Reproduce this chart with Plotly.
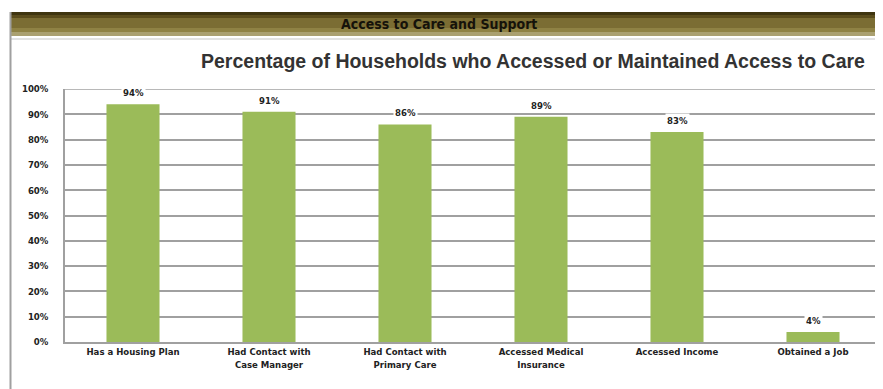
import plotly.graph_objects as go

categories = ["Has a Housing Plan", "Had Contact with<br>Case Manager", "Had Contact with<br>Primary Care",
              "Accessed Medical<br>Insurance", "Accessed Income", "Obtained a Job"]
values = [94, 91, 86, 89, 83, 4]
tick_vals = list(range(0, 101, 10))
tick_text = [f"{v}%" for v in tick_vals]

OFF = 8  # default page body margin
W, H = 883 - OFF, 389 - OFF
L, R, T, B = 65 - OFF, 2, 89 - OFF, 47
PW, PH = W - L - R, H - T - B

def px(x):
    return (x - OFF - L) / PW

def py(y):
    return 1 - (y - OFF - T) / PH

font_c = "DejaVu Sans Condensed, Liberation Sans Narrow, Arial Narrow, sans-serif"

fig = go.Figure(go.Bar(
    x=categories, y=values, marker=dict(color="#9bbb59", line=dict(width=0)),
    width=0.39,
))

shapes = []
bands = [(12, 15, "#3f3510"), (15, 18, "#5a4c1c"), (18, 28, "#7b6d33"), (28, 32, "#8f8244"), (32, 36, "#aaa070")]
for y0, y1, c in bands:
    shapes.append(dict(type="rect", xref="paper", yref="paper", x0=px(10), x1=px(883),
                       y0=py(y1), y1=py(y0), fillcolor=c, line=dict(width=0), layer="below"))
shapes.append(dict(type="line", xref="paper", yref="paper", x0=px(10), x1=px(883), y0=py(39), y1=py(39),
                   line=dict(color="#e2e2e2", width=2)))
shapes.append(dict(type="line", xref="paper", yref="paper", x0=px(10.5), x1=px(10.5), y0=py(389), y1=py(12),
                   line=dict(color="#a0a0a0", width=2)))
shapes.append(dict(type="line", xref="paper", yref="paper", x0=px(880.5), x1=px(880.5), y0=py(389), y1=py(36),
                   line=dict(color="#d0d0d0", width=1)))
shapes.append(dict(type="line", xref="paper", yref="y", x0=0, x1=1, y0=100, y1=100,
                   line=dict(color="#a0a0a0", width=1.5), layer="below"))

annotations = [
    dict(text="<b>Access to Care and Support</b>", xref="paper", yref="paper", x=px(439), y=py(24),
         showarrow=False, font=dict(family=font_c, size=14, color="#15120a"), xanchor="center", yanchor="middle"),
    dict(text="<b>Percentage of Households who Accessed or Maintained Access to Care</b>", xref="paper", yref="paper",
         x=px(533), y=py(61), showarrow=False, font=dict(family="Liberation Sans, Arial", size=19.5, color="#333333"),
         xanchor="center", yanchor="middle"),
]
for c, v in zip(categories, values):
    annotations.append(dict(text=f"<b>{v}%</b>", x=c, y=v, xref="x", yref="y", yanchor="bottom",
                            yshift=4, showarrow=False, bgcolor="white", borderpad=1,
                            font=dict(family=font_c, size=9.5, color="#222222")))

fig.update_layout(
    width=W, height=H, margin=dict(l=L, r=R, t=T, b=B),
    paper_bgcolor="white", plot_bgcolor="white",
    showlegend=False, bargap=0.6,
    shapes=shapes, annotations=annotations,
    xaxis=dict(showgrid=False, showline=True, linecolor="#a0a0a0", linewidth=1.5, ticks="",
               tickfont=dict(family=font_c, size=9.5, color="#222222"),
               ticktext=[f"<b>{c}</b>" for c in categories], tickvals=categories),
    yaxis=dict(range=[0, 100], tickvals=tick_vals, ticktext=[f"<b>{t}</b>" for t in tick_text],
               showgrid=True, gridcolor="#a0a0a0", gridwidth=1.5, showline=True, linecolor="#a0a0a0",
               linewidth=1.5, zeroline=False, ticks="", ticklabelstandoff=13,
               tickfont=dict(family=font_c, size=9.5, color="#222222")),
)

fig.write_html("out.html")
